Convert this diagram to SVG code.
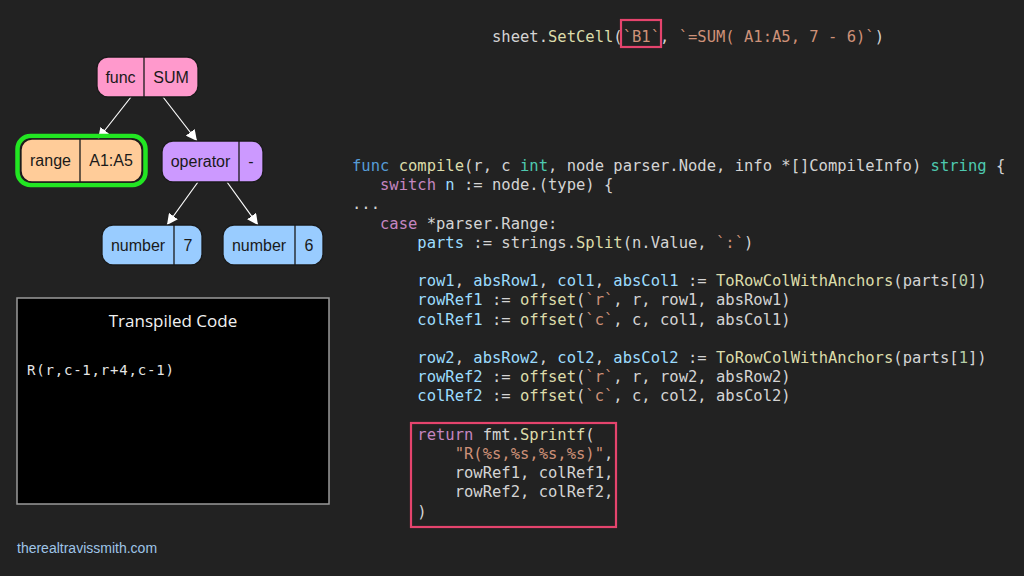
<svg xmlns="http://www.w3.org/2000/svg" width="1024" height="576" viewBox="0 0 1024 576">
<style>
.code{font-family:"DejaVu Sans Mono","Liberation Mono",monospace;font-size:15.5px;fill:#d4d4d4;white-space:pre}
.kw{fill:#569cd6}.ctl{fill:#c586c0}.fn{fill:#dcdcaa}.ty{fill:#4ec9b0}.va{fill:#9cdcfe}.st{fill:#ce9178}.nu{fill:#b5cea8}
.nl{font-family:"Liberation Sans",Arial,sans-serif;font-size:16px;fill:#1a1a1a;text-anchor:middle}
.nb{stroke:#1a1a1a;stroke-width:1.3}
.edge{stroke:#ffffff;stroke-width:1.2;fill:none}
.hl{fill:none;stroke:#e5446d;stroke-width:2.2}
</style>
<defs>
<marker id="ah" viewBox="0 0 10 10" refX="10" refY="5" markerWidth="11" markerHeight="11" markerUnits="userSpaceOnUse" orient="auto">
<path d="M0,0 L10,5 L0,10 z" fill="#ffffff"/>
</marker>
</defs>
<rect width="1024" height="576" fill="#222222"/>

<g id="edges">
<line class="edge" x1="131" y1="97" x2="98" y2="139" marker-end="url(#ah)"/>
<line class="edge" x1="163" y1="97" x2="197" y2="141" marker-end="url(#ah)"/>
<line class="edge" x1="198" y1="182" x2="167" y2="225" marker-end="url(#ah)"/>
<line class="edge" x1="227" y1="182" x2="258" y2="225" marker-end="url(#ah)"/>
</g>

<g id="node-func">
<rect class="nb" x="97" y="57" width="101" height="40" rx="11" fill="#ff99cc"/>
<line class="nb" x1="144" y1="57" x2="144" y2="97"/>
<text class="nl" x="120.5" y="82.5">func</text>
<text class="nl" x="171" y="82.5">SUM</text>
</g>

<g id="node-range">
<rect x="17.5" y="136" width="128" height="49" rx="13" fill="none" stroke="#22e622" stroke-width="4.5"/>
<rect class="nb" x="21" y="139" width="121" height="43" rx="11" fill="#ffcc99"/>
<line class="nb" x1="80" y1="139" x2="80" y2="182"/>
<text class="nl" x="50.5" y="166">range</text>
<text class="nl" x="111" y="166">A1:A5</text>
</g>

<g id="node-operator">
<rect class="nb" x="162" y="141" width="101" height="41" rx="11" fill="#cc99ff"/>
<line class="nb" x1="239" y1="141" x2="239" y2="182"/>
<text class="nl" x="200.5" y="166.5">operator</text>
<text class="nl" x="251" y="166.5">-</text>
</g>

<g id="node-number7">
<rect class="nb" x="102" y="225" width="100" height="40" rx="11" fill="#99ccff"/>
<line class="nb" x1="174" y1="225" x2="174" y2="265"/>
<text class="nl" x="138" y="250.5">number</text>
<text class="nl" x="188" y="250.5">7</text>
</g>

<g id="node-number6">
<rect class="nb" x="223" y="225" width="100" height="40" rx="11" fill="#99ccff"/>
<line class="nb" x1="295" y1="225" x2="295" y2="265"/>
<text class="nl" x="259" y="250.5">number</text>
<text class="nl" x="309" y="250.5">6</text>
</g>

<g id="transpiled">
<rect x="17" y="298" width="312" height="206" fill="#000000" stroke="#9a9a9a" stroke-width="1.5"/>
<text x="173" y="327" text-anchor="middle" font-family="'Open Sans','Noto Sans',sans-serif" font-size="17" fill="#f2f2f2">Transpiled Code</text>
<text x="27" y="375" font-family="'DejaVu Sans Mono','Liberation Mono',monospace" font-size="14" letter-spacing="0.8" fill="#e6e6e6">R(r,c-1,r+4,c-1)</text>
</g>

<text x="17" y="553" font-family="'Liberation Sans',Arial,sans-serif" font-size="14" fill="#9fc5e8">therealtravissmith.com</text>

<g id="top-code">
<text class="code" x="492" y="42">sheet.<tspan class="fn">SetCell</tspan>(<tspan class="st">`B1`</tspan>, <tspan class="st">`=SUM( A1:A5, 7 - 6)`</tspan>)</text>
<rect class="hl" x="621" y="20" width="40" height="27"/>
</g>

<g id="code">
<text class="code" x="352" y="171"><tspan class="kw">func</tspan> <tspan class="fn">compile</tspan>(r, c <tspan class="ty">int</tspan>, node parser.Node, info *[]CompileInfo) <tspan class="ty">string</tspan> {</text>
<text class="code" x="352" y="190.2">   <tspan class="ctl">switch</tspan> <tspan class="va">n</tspan> := node.(type) {</text>
<text class="code" x="352" y="209.4">...</text>
<text class="code" x="352" y="228.6">   <tspan class="ctl">case</tspan> *parser.Range:</text>
<text class="code" x="352" y="247.8">       <tspan class="va">parts</tspan> := strings.<tspan class="fn">Split</tspan>(n.Value, <tspan class="st">`:`</tspan>)</text>
<text class="code" x="352" y="286.2">       <tspan class="va">row1</tspan>, <tspan class="va">absRow1</tspan>, <tspan class="va">col1</tspan>, <tspan class="va">absCol1</tspan> := <tspan class="fn">ToRowColWithAnchors</tspan>(parts[<tspan class="nu">0</tspan>])</text>
<text class="code" x="352" y="305.4">       <tspan class="va">rowRef1</tspan> := <tspan class="fn">offset</tspan>(<tspan class="st">`r`</tspan>, r, row1, absRow1)</text>
<text class="code" x="352" y="324.6">       <tspan class="va">colRef1</tspan> := <tspan class="fn">offset</tspan>(<tspan class="st">`c`</tspan>, c, col1, absCol1)</text>
<text class="code" x="352" y="363">       <tspan class="va">row2</tspan>, <tspan class="va">absRow2</tspan>, <tspan class="va">col2</tspan>, <tspan class="va">absCol2</tspan> := <tspan class="fn">ToRowColWithAnchors</tspan>(parts[<tspan class="nu">1</tspan>])</text>
<text class="code" x="352" y="382.2">       <tspan class="va">rowRef2</tspan> := <tspan class="fn">offset</tspan>(<tspan class="st">`r`</tspan>, r, row2, absRow2)</text>
<text class="code" x="352" y="401.4">       <tspan class="va">colRef2</tspan> := <tspan class="fn">offset</tspan>(<tspan class="st">`c`</tspan>, c, col2, absCol2)</text>
<text class="code" x="352" y="439.8">       <tspan class="ctl">return</tspan> fmt.<tspan class="fn">Sprintf</tspan>(</text>
<text class="code" x="352" y="459">           <tspan class="st">"R(%s,%s,%s,%s)"</tspan>,</text>
<text class="code" x="352" y="478.2">           rowRef1, colRef1,</text>
<text class="code" x="352" y="497.4">           rowRef2, colRef2,</text>
<text class="code" x="352" y="516.6">       )</text>
<rect class="hl" x="411" y="423" width="205" height="104" stroke-width="2.5"/>
</g>
</svg>
